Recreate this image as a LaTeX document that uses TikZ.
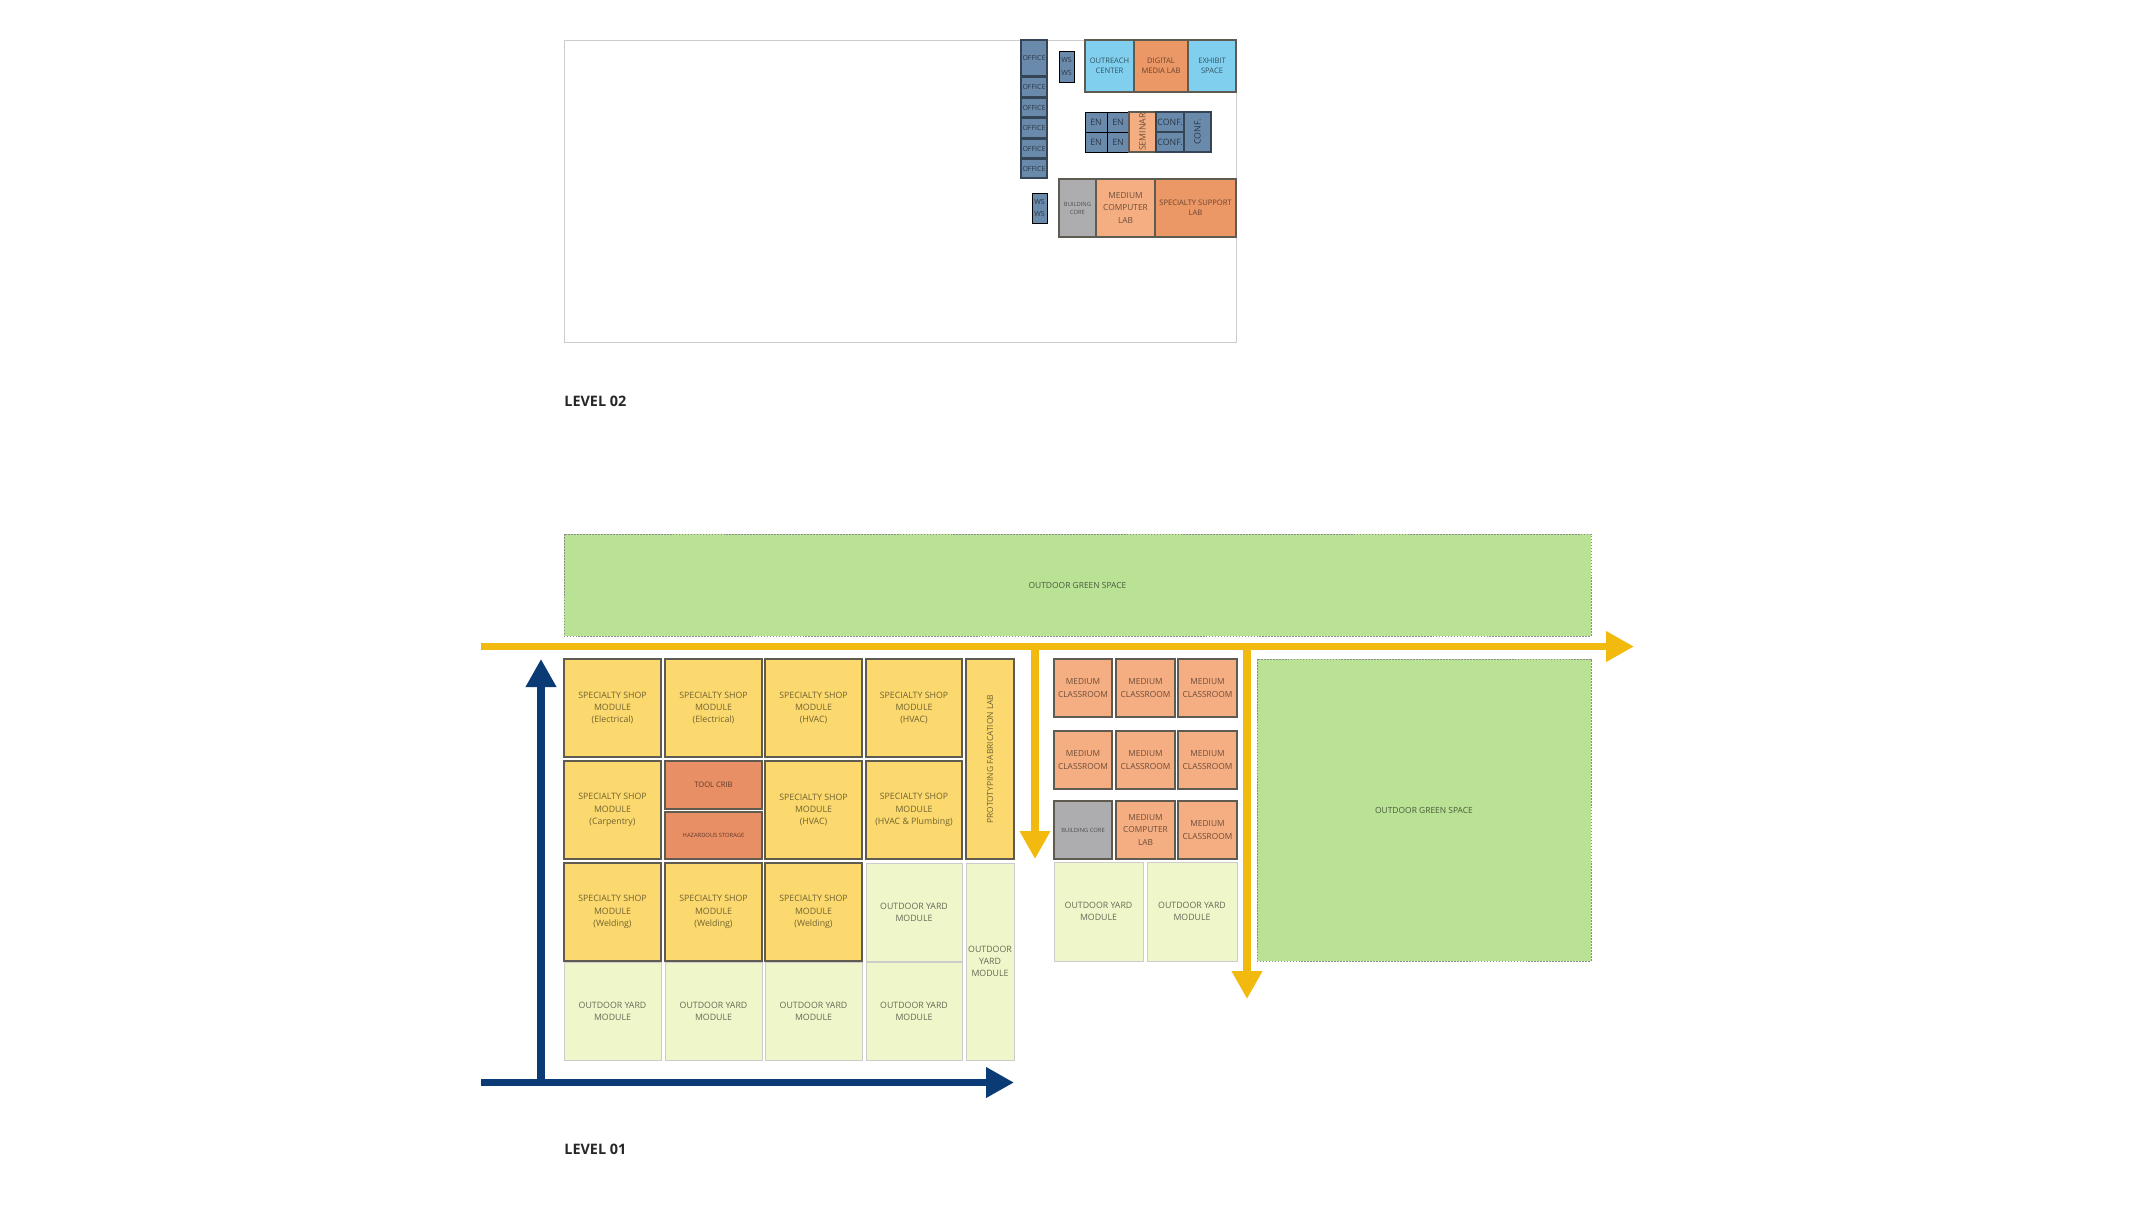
\documentclass[tikz,border=0pt]{standalone}
\usepackage{fontspec}
\setmainfont{Open Sans}
\usetikzlibrary{arrows.meta}

\definecolor{shopfill}{HTML}{FBD96E}
\definecolor{classfill}{HTML}{F5AE82}
\definecolor{labfill}{HTML}{EC9766}
\definecolor{cribfill}{HTML}{E98F66}
\definecolor{skyfill}{HTML}{80CFEE}
\definecolor{slatefill}{HTML}{6A8AAC}
\definecolor{corefill}{HTML}{ADADB0}
\definecolor{yardfill}{HTML}{EFF7CA}
\definecolor{greenfill}{HTML}{B9E295}
\definecolor{pathyellow}{HTML}{F2B90F}
\definecolor{pathblue}{HTML}{0B3B74}
\definecolor{wallgrey}{HTML}{5F5B50}

\tikzset{
  roombox/.style={draw=wallgrey,line width=0.8pt},
  shopbox/.style={roombox,fill=shopfill},
  classbox/.style={roombox,fill=classfill},
  labbox/.style={roombox,fill=labfill},
  cribbox/.style={roombox,fill=cribfill},
  skybox/.style={roombox,fill=skyfill},
  corebox/.style={roombox,fill=corefill},
  officebox/.style={draw=black!50!slatefill,line width=0.7pt,fill=slatefill},
  openbox/.style={fill=slatefill},
  yardbox/.style={draw=black!20,line width=0.4pt,fill=yardfill},
  greenbox/.style={draw=black!45,line width=0.4pt,dash pattern=on 1pt off 0.7pt,fill=greenfill},
  txt/.style={inner sep=0pt,align=center,font=\fontsize{5}{7}\selectfont},
  shoptxt/.style={txt,text=shopfill!45!black},
  prototxt/.style={inner sep=0pt,align=center,font=\fontsize{4.8}{7}\selectfont,text=shopfill!45!black},
  classtxt/.style={inner sep=0pt,align=center,font=\fontsize{4.75}{7}\selectfont,text=classfill!45!black},
  yardtxt/.style={txt,text=yardfill!42!black},
  greentxt/.style={inner sep=0pt,align=center,font=\fontsize{4.8}{6}\selectfont,text=greenfill!40!black},
  smalltxt/.style={inner sep=0pt,align=center,font=\fontsize{4.3}{5.7}\selectfont},
  tinytxt/.style={inner sep=0pt,align=center,font=\fontsize{3.3}{4.5}\selectfont},
  officetxt/.style={inner sep=0pt,align=center,font=\fontsize{4}{5.5}\selectfont,text=slatefill!40!black},
  slatetxt/.style={inner sep=0pt,align=center,font=\fontsize{5}{6}\selectfont,text=slatefill!40!black},
  leveltxt/.style={inner sep=0pt,anchor=west,text=black!85,font=\fontsize{8.2}{10}\selectfont\bfseries},
  yellowpath/.style={draw=pathyellow,line width=4.4pt,-{Triangle[length=0.56cm,width=0.58cm]}},
  bluepath/.style={draw=pathblue,line width=4.4pt,-{Triangle[length=0.56cm,width=0.58cm]}}
}

\begin{document}
\begin{tikzpicture}[x=0.02cm,y=-0.02cm]
\useasboundingbox (0,0) rectangle (2135,1204);

% level 02
\draw[draw=black!20,line width=0.5pt] (564,40) rectangle (1236,342);
\node[leveltxt] (levelTwo) at (564,401) {LEVEL 02};

\draw[officebox] (1021,40) rectangle node[officetxt] (officeA) {OFFICE} (1047,76);
\draw[officebox] (1021,77) rectangle node[officetxt] (officeB) {OFFICE} (1047,97);
\draw[officebox] (1021,98) rectangle node[officetxt] (officeC) {OFFICE} (1047,117);
\draw[officebox] (1021,118) rectangle node[officetxt] (officeD) {OFFICE} (1047,138);
\draw[officebox] (1021,139) rectangle node[officetxt] (officeE) {OFFICE} (1047,158);
\draw[officebox] (1021,159) rectangle node[officetxt] (officeF) {OFFICE} (1047,178);

\draw[openbox] (1059,51) rectangle node[officetxt] (wsA) {WS\\[1.5pt]WS} (1074,82);
\draw[openbox] (1032,193) rectangle node[officetxt] (wsB) {WS\\[1.5pt]WS} (1047,223);

\draw[skybox] (1085,40) rectangle node[smalltxt,text=skyfill!40!black] (outreach) {OUTREACH\\CENTER} (1134,92);
\draw[labbox] (1134,40) rectangle node[smalltxt,text=labfill!45!black] (digital) {DIGITAL\\MEDIA LAB} (1188,92);
\draw[skybox] (1188,40) rectangle node[smalltxt,text=skyfill!40!black] (exhibit) {EXHIBIT\\SPACE} (1236,92);

\draw[openbox] (1085,112) rectangle node[slatetxt] (enA) {EN} (1107,132);
\draw[openbox] (1107,112) rectangle node[slatetxt] (enB) {EN} (1129,132);
\draw[openbox] (1085,132) rectangle node[slatetxt] (enC) {EN} (1107,152);
\draw[openbox] (1107,132) rectangle node[slatetxt] (enD) {EN} (1129,152);
\draw[classbox] (1129,112) rectangle node[slatetxt,rotate=90,text=classfill!45!black] (seminar) {SEMINAR} (1156,152);
\draw[officebox] (1156,112) rectangle node[slatetxt] (confA) {CONF.} (1184,132);
\draw[officebox] (1156,132) rectangle node[slatetxt] (confB) {CONF.} (1184,152);
\draw[officebox] (1184,112) rectangle node[slatetxt,rotate=90] (confC) {CONF.} (1211,152);

\draw[corebox] (1059,179) rectangle node[tinytxt,text=corefill!45!black] (coreTwo) {BUILDING\\CORE} (1096,237);
\draw[classbox] (1096,179) rectangle node[classtxt] (compTwo) {MEDIUM\\COMPUTER\\LAB} (1155,237);
\draw[labbox] (1155,179) rectangle node[smalltxt,text=labfill!45!black] (support) {SPECIALTY SUPPORT\\LAB} (1236,237);

% level 01
\node[leveltxt] (levelOne) at (564,1149) {LEVEL 01};
\draw[greenbox] (564,534) rectangle node[greentxt] (greenTop) {OUTDOOR GREEN SPACE} (1591,636);
\draw[greenbox] (1257,659) rectangle node[greentxt] (greenSide) {OUTDOOR GREEN SPACE} (1591,961);

\draw[shopbox] (564,659) rectangle node[shoptxt] (shopA) {SPECIALTY SHOP\\MODULE\\(Electrical)} (661,757);
\draw[shopbox] (665,659) rectangle node[shoptxt] (shopB) {SPECIALTY SHOP\\MODULE\\(Electrical)} (762,757);
\draw[shopbox] (765,659) rectangle node[shoptxt] (shopC) {SPECIALTY SHOP\\MODULE\\(HVAC)} (862,757);
\draw[shopbox] (866,659) rectangle node[shoptxt] (shopD) {SPECIALTY SHOP\\MODULE\\(HVAC)} (962,757);
\draw[shopbox] (966,659) rectangle node[prototxt,rotate=90] (proto) {PROTOTYPING FABRICATION LAB} (1014,859);

\draw[shopbox] (564,761) rectangle node[shoptxt] (shopE) {SPECIALTY SHOP\\MODULE\\(Carpentry)} (661,859);
\draw[cribbox] (665,761) rectangle node[smalltxt,text=cribfill!40!black] (toolCrib) {TOOL CRIB} (762,809);
\draw[cribbox] (665,812) rectangle node[tinytxt,text=cribfill!40!black] (hazard) {HAZARDOUS STORAGE} (762,859);
\draw[shopbox] (765,761) rectangle node[shoptxt] (shopF) {SPECIALTY SHOP\\MODULE\\(HVAC)} (862,859);
\draw[shopbox] (866,761) rectangle node[shoptxt] (shopG) {SPECIALTY SHOP\\MODULE\\(HVAC \& Plumbing)} (962,859);

\draw[yardbox] (866,863) rectangle node[yardtxt] (yardA) {OUTDOOR YARD\\MODULE} (962,961);
\draw[yardbox] (966,863) rectangle node[yardtxt] (yardB) {OUTDOOR\\YARD\\MODULE} (1014,1060);
\draw[yardbox] (564,962) rectangle node[yardtxt] (yardC) {OUTDOOR YARD\\MODULE} (661,1060);
\draw[yardbox] (665,962) rectangle node[yardtxt] (yardD) {OUTDOOR YARD\\MODULE} (762,1060);
\draw[yardbox] (765,962) rectangle node[yardtxt] (yardE) {OUTDOOR YARD\\MODULE} (862,1060);
\draw[yardbox] (866,962) rectangle node[yardtxt] (yardF) {OUTDOOR YARD\\MODULE} (962,1060);

\draw[shopbox] (564,863) rectangle node[shoptxt] (shopH) {SPECIALTY SHOP\\MODULE\\(Welding)} (661,961);
\draw[shopbox] (665,863) rectangle node[shoptxt] (shopI) {SPECIALTY SHOP\\MODULE\\(Welding)} (762,961);
\draw[shopbox] (765,863) rectangle node[shoptxt] (shopJ) {SPECIALTY SHOP\\MODULE\\(Welding)} (862,961);

\draw[classbox] (1054,659) rectangle node[classtxt] (classA) {MEDIUM\\CLASSROOM} (1112,717);
\draw[classbox] (1116,659) rectangle node[classtxt] (classB) {MEDIUM\\CLASSROOM} (1175,717);
\draw[classbox] (1178,659) rectangle node[classtxt] (classC) {MEDIUM\\CLASSROOM} (1237,717);
\draw[classbox] (1054,731) rectangle node[classtxt] (classD) {MEDIUM\\CLASSROOM} (1112,789);
\draw[classbox] (1116,731) rectangle node[classtxt] (classE) {MEDIUM\\CLASSROOM} (1175,789);
\draw[classbox] (1178,731) rectangle node[classtxt] (classF) {MEDIUM\\CLASSROOM} (1237,789);
\draw[corebox] (1054,801) rectangle node[tinytxt,text=corefill!45!black] (coreOne) {BUILDING CORE} (1112,859);
\draw[classbox] (1116,801) rectangle node[classtxt] (compOne) {MEDIUM\\COMPUTER\\LAB} (1175,859);
\draw[classbox] (1178,801) rectangle node[classtxt] (classG) {MEDIUM\\CLASSROOM} (1237,859);
\draw[yardbox] (1054,862) rectangle node[yardtxt] (yardG) {OUTDOOR YARD\\MODULE} (1143,961);
\draw[yardbox] (1147,862) rectangle node[yardtxt] (yardH) {OUTDOOR YARD\\MODULE} (1237,961);

% circulation
\coordinate (yellowStart) at (481,646.5);
\coordinate (yellowEnd) at (1634,646.5);
\coordinate (yellowA) at (1035,643);
\coordinate (yellowATip) at (1035,859);
\coordinate (yellowB) at (1247,643);
\coordinate (yellowBTip) at (1247,999);
\coordinate (blueStart) at (481,1082.5);
\coordinate (blueEnd) at (1014,1082.5);
\coordinate (blueA) at (541,1082.5);
\coordinate (blueATip) at (541,659);
\draw[yellowpath] (yellowStart) -- (yellowEnd);
\draw[yellowpath] (yellowA) -- (yellowATip);
\draw[yellowpath] (yellowB) -- (yellowBTip);
\draw[bluepath] (blueStart) -- (blueEnd);
\draw[bluepath] (blueA) -- (blueATip);
\end{tikzpicture}
\end{document}
